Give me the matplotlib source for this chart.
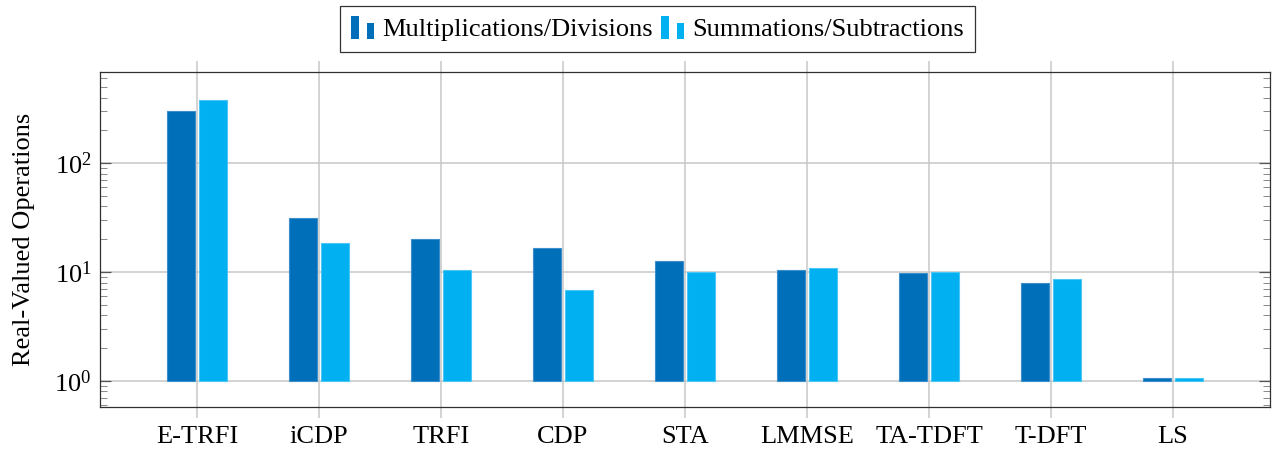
import matplotlib
matplotlib.use("Agg")
import matplotlib.pyplot as plt
import numpy as np
from matplotlib.legend_handler import HandlerBase
from matplotlib.patches import Rectangle
from matplotlib.ticker import LogLocator, NullFormatter

categories = ["E-TRFI", "iCDP", "TRFI", "CDP", "STA", "LMMSE", "TA-TDFT", "T-DFT", "LS"]
mult_div = [302, 31.1, 20.3, 16.5, 12.5, 10.4, 9.8, 7.9, 1.06]
sum_sub = [379, 18.3, 10.4, 6.8, 10.1, 11.0, 10.0, 8.7, 1.06]
series_names = ["Multiplications/Divisions", "Summations/Subtractions"]
colors = ["#006fb9", "#00b0f0"]
edge_colors = ["#3d8fcc", "#4cc6f4"]

plt.rcParams["font.family"] = ["Liberation Serif", "DejaVu Serif"]
plt.rcParams["mathtext.fontset"] = "custom"
plt.rcParams["mathtext.rm"] = "Liberation Serif"
plt.rcParams["mathtext.it"] = "Liberation Serif:italic"

FS = 19

fig = plt.figure(figsize=(12.76, 4.51), dpi=100)
ax = fig.add_axes([100 / 1276, 1 - 407 / 451, 1170 / 1276, 335 / 451])

x = np.arange(len(categories))
w = 0.228
off = 0.131
base = 1.0
for vals, sgn, c, ec, name in zip([mult_div, sum_sub], [-1, 1], colors, edge_colors, series_names):
    h = [v - base for v in vals]
    ax.bar(x + sgn * off, h, width=w, bottom=base, color=c, edgecolor=ec,
           linewidth=0.8, label=name, zorder=3)

ax.set_yscale("log")
ax.set_ylim(0.576, 687)
ax.set_xlim(-0.795, 8.795)
ax.set_xticks(x)
ax.set_xticklabels(categories, fontsize=FS)
ax.set_yticks([1, 10, 100])
ax.yaxis.set_minor_locator(LogLocator(base=10, subs=np.arange(2, 10)))
ax.yaxis.set_minor_formatter(NullFormatter())
ax.tick_params(axis="y", which="major", direction="in", length=8, width=0.9,
               left=True, right=True, labelsize=FS, color="#555555", pad=6)
ax.tick_params(axis="y", which="minor", direction="in", length=5, width=0.7,
               left=True, right=True, color="#888888")
ax.tick_params(axis="x", which="major", direction="out", length=8, width=1.1,
               bottom=True, top=True, color="#c8c8c8", labelsize=FS, pad=6)
ax.grid(True, which="major", color="#c8c8c8", linewidth=1.1, zorder=0)
ax.set_axisbelow(True)
for s in ax.spines.values():
    s.set_linewidth(0.9)
    s.set_color("#303030")
ax.set_ylabel("Real-Valued Operations", fontsize=FS)
ax.yaxis.set_label_coords((35 - 100) / 1170, 0.5)


class BarHandler(HandlerBase):
    def create_artists(self, legend, orig_handle, xdescent, ydescent, width, height, fontsize, trans):
        c = orig_handle.get_facecolor()
        r1 = Rectangle((0, -ydescent - 2.2), 6.0, 16.0,
                       facecolor=c, edgecolor="none", transform=trans)
        r2 = Rectangle((11.5, -ydescent - 2.2), 5.4, 11.5,
                       facecolor=c, edgecolor="none", transform=trans)
        return [r1, r2]


handles = [Rectangle((0, 0), 1, 1, facecolor=c) for c in colors]
leg = fig.legend(handles, series_names, loc="upper center",
                 bbox_to_anchor=(657.5 / 1276, 1 - 6 / 451), ncol=2, fontsize=FS,
                 frameon=True, fancybox=False, edgecolor="black",
                 handler_map={Rectangle: BarHandler()}, handlelength=0.92,
                 handletextpad=0.28, columnspacing=0.3, borderpad=0.42,
                 borderaxespad=0)
leg.get_frame().set_linewidth(0.9)

fig.savefig("out.png", dpi=100)
